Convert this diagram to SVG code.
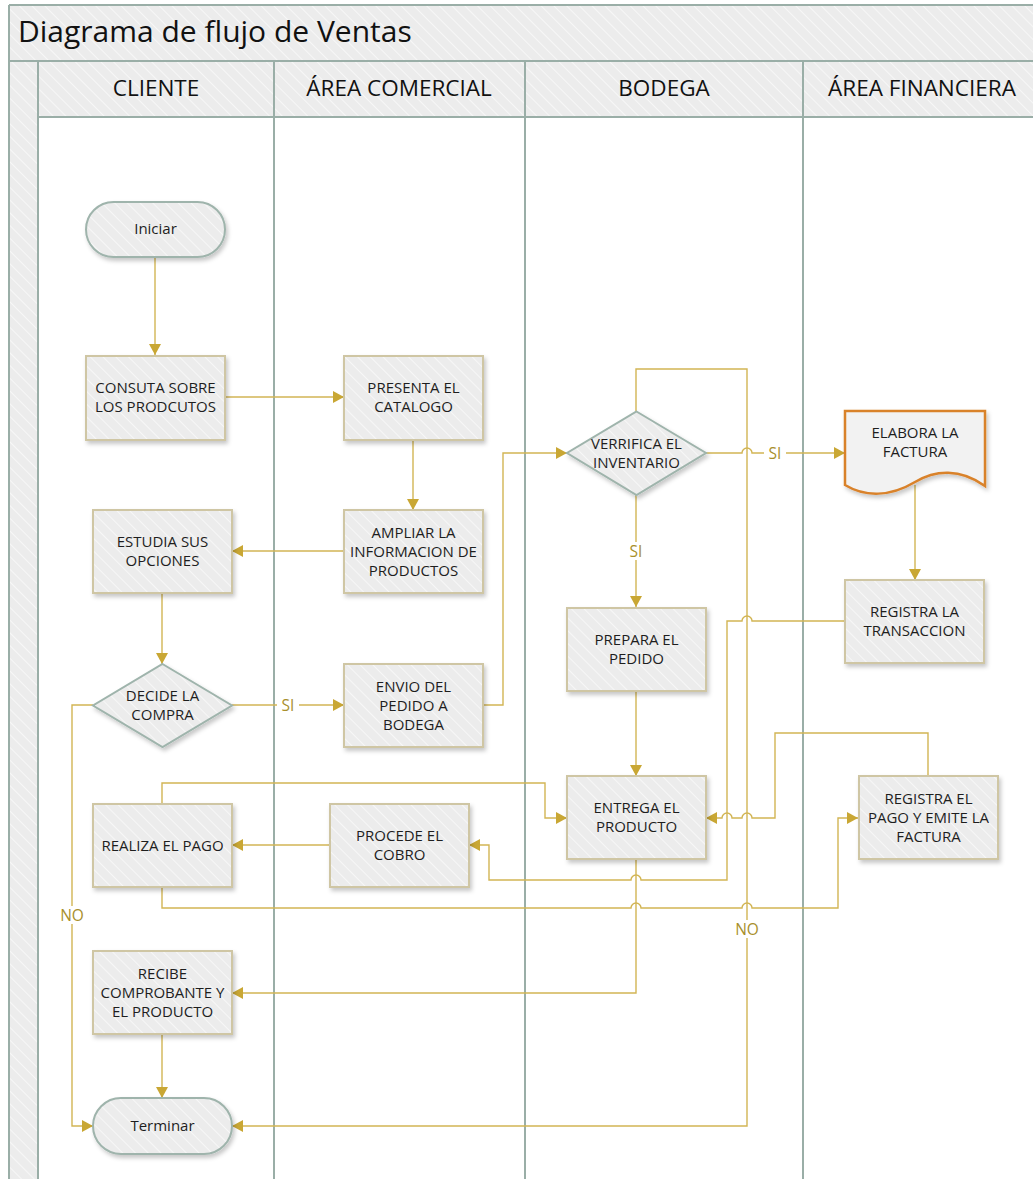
<svg xmlns="http://www.w3.org/2000/svg" width="1033" height="1179" viewBox="0 0 1033 1179">
<defs>
<pattern id="hatch" width="9" height="9" patternUnits="userSpaceOnUse" patternTransform="rotate(-45)">
<rect width="9" height="9" fill="#ececec"/>
<line x1="0" y1="0" x2="0" y2="9" stroke="#f7f7f7" stroke-width="2"/>
</pattern>
<filter id="sh" x="-10%" y="-10%" width="125%" height="135%">
<feDropShadow dx="2" dy="3" stdDeviation="2" flood-color="#000" flood-opacity="0.22"/>
</filter>
<marker id="arr" markerUnits="userSpaceOnUse" markerWidth="12" markerHeight="12" refX="11" refY="6" orient="auto">
<path d="M0,0 L11,6 L0,12 z" fill="#c9a734"/>
</marker>
<style>
.t{font-family:"Open Sans","Noto Sans",sans-serif;font-size:15px;fill:#1e1e1e;text-anchor:middle}
.h{font-family:"Open Sans","Noto Sans",sans-serif;font-size:22.5px;fill:#111;text-anchor:middle}
.lbl{font-family:"Open Sans","Noto Sans",sans-serif;font-size:15.5px;fill:#a88f2c;text-anchor:middle}
.box{fill:url(#hatch);stroke:#cfc6a4;stroke-width:2;filter:url(#sh)}
.alt{fill:url(#hatch);stroke:#9fb4ac;stroke-width:2;filter:url(#sh)}
.doc{fill:#f2f2f2;stroke:#d9822b;stroke-width:2.5;filter:url(#sh)}
.c{fill:none;stroke:#d2b554;stroke-width:1.4}
.lane{stroke:#9aaea7;stroke-width:2;fill:none}
</style>
</defs>
<rect width="1033" height="1179" fill="#ffffff"/>
<g id="pool">
<rect x="9" y="5" width="1030" height="56" fill="url(#hatch)"/>
<rect x="9" y="61" width="29" height="1120" fill="url(#hatch)"/>
<rect x="38" y="61" width="1000" height="56" fill="url(#hatch)"/>
<path class="lane" d="M9,5 H1040 M9,5 V1179 M9,61 H1040 M38,117 H1040 M38,61 V1179 M274,61 V1179 M525,61 V1179 M803,61 V1179"/>
<text x="18" y="42" font-family="Open Sans, Noto Sans, sans-serif" font-size="30" fill="#111">Diagrama de flujo de Ventas</text>
<text class="h" x="156" y="96">CLIENTE</text>
<text class="h" x="399" y="96">ÁREA COMERCIAL</text>
<text class="h" x="664" y="96">BODEGA</text>
<text class="h" x="922" y="96">ÁREA FINANCIERA</text>
</g>
<g id="connectors">
<path class="c" d="M155,258 V355" marker-end="url(#arr)"/>
<path class="c" d="M225,397 H344" marker-end="url(#arr)"/>
<path class="c" d="M413,440 V510" marker-end="url(#arr)"/>
<path class="c" d="M344,551 H232" marker-end="url(#arr)"/>
<path class="c" d="M162,593 V664" marker-end="url(#arr)"/>
<path class="c" d="M232,705 H344" marker-end="url(#arr)"/>
<path class="c" d="M93,705 H72 V1126 H93" marker-end="url(#arr)"/>
<path class="c" d="M483,705 H503 V453 H567" marker-end="url(#arr)"/>
<path class="c" d="M706,453 H742 a5,5 0 0 1 10,0 H845" marker-end="url(#arr)"/>
<path class="c" d="M636,495 V607" marker-end="url(#arr)"/>
<path class="c" d="M636,411 V369 H747 V1126 H232" marker-end="url(#arr)"/>
<path class="c" d="M915,485 V580" marker-end="url(#arr)"/>
<path class="c" d="M845,621 H752 a5,5 0 0 0 -10,0 H727 V880 H641 a5,5 0 0 0 -10,0 H489 V845 H469" marker-end="url(#arr)"/>
<path class="c" d="M636,691 V776" marker-end="url(#arr)"/>
<path class="c" d="M162,803 V783 H545 V818 H567" marker-end="url(#arr)"/>
<path class="c" d="M928,776 V733 H775 V818 H752 a5,5 0 0 0 -10,0 H732 a5,5 0 0 0 -10,0 H706" marker-end="url(#arr)"/>
<path class="c" d="M330,845 H232" marker-end="url(#arr)"/>
<path class="c" d="M162,887 V908 H631 a5,5 0 0 1 10,0 H742 a5,5 0 0 1 10,0 H838 V818 H858" marker-end="url(#arr)"/>
<path class="c" d="M636,859 V993 H232" marker-end="url(#arr)"/>
<path class="c" d="M162,1034 V1098" marker-end="url(#arr)"/>
<rect x="277" y="697" width="22" height="16" fill="#fff"/>
<text class="lbl" x="288" y="711">SI</text>
<rect x="764" y="445" width="22" height="16" fill="#fff"/>
<text class="lbl" x="775" y="459">SI</text>
<rect x="625" y="542" width="22" height="18" fill="#fff"/>
<text class="lbl" x="636" y="557">SI</text>
<rect x="56" y="906" width="32" height="18" fill="#fff"/>
<text class="lbl" x="72" y="921">NO</text>
<rect x="731" y="920" width="32" height="18" fill="#fff"/>
<text class="lbl" x="747" y="935">NO</text>
</g>
<g id="n-iniciar">
<rect class="alt" x="86" y="202" width="139" height="55" rx="27.5"/>
<text class="t" x="155.5" y="234">Iniciar</text>
</g>
<g id="n-consulta">
<rect class="box" x="86" y="356" width="139" height="84"/>
<text class="t" x="155.5" y="393">CONSUTA SOBRE</text>
<text class="t" x="155.5" y="412">LOS PRODCUTOS</text>
</g>
<g id="n-presenta">
<rect class="box" x="344" y="356" width="139" height="84"/>
<text class="t" x="413.5" y="393">PRESENTA EL</text>
<text class="t" x="413.5" y="412">CATALOGO</text>
</g>
<g id="n-estudia">
<rect class="box" x="93" y="510" width="139" height="83"/>
<text class="t" x="162.5" y="547">ESTUDIA SUS</text>
<text class="t" x="162.5" y="566">OPCIONES</text>
</g>
<g id="n-ampliar">
<rect class="box" x="344" y="510" width="139" height="83"/>
<text class="t" x="413.5" y="538">AMPLIAR LA</text>
<text class="t" x="413.5" y="557">INFORMACION DE</text>
<text class="t" x="413.5" y="576">PRODUCTOS</text>
</g>
<g id="n-decide">
<polygon class="alt" points="162.5,664 232,705.5 162.5,747 93,705.5"/>
<text class="t" x="162.5" y="701">DECIDE LA</text>
<text class="t" x="162.5" y="720">COMPRA</text>
</g>
<g id="n-envio">
<rect class="box" x="344" y="664" width="139" height="83"/>
<text class="t" x="413.5" y="692">ENVIO DEL</text>
<text class="t" x="413.5" y="711">PEDIDO A</text>
<text class="t" x="413.5" y="730">BODEGA</text>
</g>
<g id="n-verifica">
<polygon class="alt" points="636.5,411.5 706,453 636.5,495 567,453"/>
<text class="t" x="636.5" y="449">VERRIFICA EL</text>
<text class="t" x="636.5" y="468">INVENTARIO</text>
</g>
<g id="n-elabora">
<path class="doc" d="M845,411 H985 V486 C960,468 935,470 915,482 C890,497 865,497 845,485 Z"/>
<text class="t" x="915" y="438">ELABORA LA</text>
<text class="t" x="915" y="457">FACTURA</text>
</g>
<g id="n-prepara">
<rect class="box" x="567" y="608" width="139" height="83"/>
<text class="t" x="636.5" y="645">PREPARA EL</text>
<text class="t" x="636.5" y="664">PEDIDO</text>
</g>
<g id="n-registra-transaccion">
<rect class="box" x="845" y="580" width="139" height="83"/>
<text class="t" x="914.5" y="617">REGISTRA LA</text>
<text class="t" x="914.5" y="636">TRANSACCION</text>
</g>
<g id="n-entrega">
<rect class="box" x="567" y="776" width="139" height="83"/>
<text class="t" x="636.5" y="813">ENTREGA EL</text>
<text class="t" x="636.5" y="832">PRODUCTO</text>
</g>
<g id="n-registra-pago">
<rect class="box" x="859" y="776" width="139" height="83"/>
<text class="t" x="928.5" y="804">REGISTRA EL</text>
<text class="t" x="928.5" y="823">PAGO Y EMITE LA</text>
<text class="t" x="928.5" y="842">FACTURA</text>
</g>
<g id="n-realiza">
<rect class="box" x="93" y="804" width="139" height="83"/>
<text class="t" x="162.5" y="851">REALIZA EL PAGO</text>
</g>
<g id="n-procede">
<rect class="box" x="330" y="804" width="139" height="83"/>
<text class="t" x="399.5" y="841">PROCEDE EL</text>
<text class="t" x="399.5" y="860">COBRO</text>
</g>
<g id="n-recibe">
<rect class="box" x="93" y="951" width="139" height="83"/>
<text class="t" x="162.5" y="979">RECIBE</text>
<text class="t" x="162.5" y="998">COMPROBANTE Y</text>
<text class="t" x="162.5" y="1017">EL PRODUCTO</text>
</g>
<g id="n-terminar">
<rect class="alt" x="93" y="1098" width="139" height="56" rx="28"/>
<text class="t" x="162.5" y="1131">Terminar</text>
</g>
</svg>
